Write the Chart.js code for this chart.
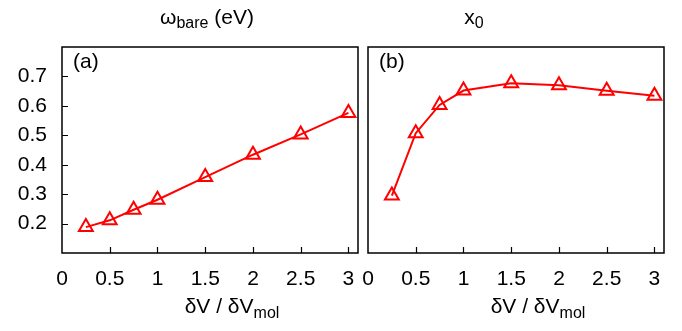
<!DOCTYPE html>
<html>
<head>
<meta charset="utf-8">
<script src="https://cdn.jsdelivr.net/npm/chart.js@4/dist/chart.umd.min.js"></script>
<style>
  html, body { margin: 0; padding: 0; background: #ffffff; }
  #wrap { position: relative; width: 682px; height: 331px; }
  canvas { position: absolute; left: 0; top: 0; }
</style>
</head>
<body>
<div id="wrap">
  <canvas id="c1" width="682" height="331"></canvas>
  <canvas id="c2" width="682" height="331"></canvas>
</div>
<script>
// ---- data ----
const ratio = [0.25, 0.5, 0.75, 1, 1.5, 2, 2.5, 3];          // δV / δV_mol
const omegaBare = [0.188, 0.211, 0.247, 0.281, 0.358, 0.434, 0.503, 0.576]; // ω_bare (eV)
const x0Values = [0.295, 0.507, 0.603, 0.652, 0.677, 0.670, 0.651, 0.634];  // x_0
const xTicks = [0, 0.5, 1, 1.5, 2, 2.5, 3];
const xTickLabels = ['0', '0.5', '1', '1.5', '2', '2.5', '3'];
const yTicks = [0.2, 0.3, 0.4, 0.5, 0.6, 0.7];
const yTickLabels = ['0.2', '0.3', '0.4', '0.5', '0.6', '0.7'];
const xRange = [0, 3.1];
const yRange = [0.1, 0.8];

const FONT = '"Liberation Sans", Arial, Helvetica, sans-serif';
const RED = '#ff0000';

function drawSub(ctx, parts, cx, baseline) {
  // parts: [{t, size, dy}]
  let total = 0;
  parts.forEach(p => { ctx.font = p.size + 'px ' + FONT; p.w = ctx.measureText(p.t).width; total += p.w; });
  let x = cx - total / 2;
  ctx.fillStyle = '#000';
  ctx.textAlign = 'left';
  ctx.textBaseline = 'alphabetic';
  parts.forEach(p => { ctx.font = p.size + 'px ' + FONT; ctx.fillText(p.t, x, baseline + p.dy); x += p.w; });
}

function makePlugin(cfg) {
  return {
    id: 'deco' + cfg.id,
    beforeDatasetsDraw(chart) {
      const ctx = chart.ctx, a = chart.chartArea;
      const xs = chart.scales.x, ys = chart.scales.y;
      ctx.save();
      ctx.strokeStyle = '#000';
      ctx.lineWidth = 1.5;
      ctx.strokeRect(a.left, a.top, a.right - a.left, a.bottom - a.top);
      ctx.lineWidth = 1.2;
      ctx.beginPath();
      xTicks.forEach(v => {
        if (v <= xRange[0]) return;
        const px = Math.round(xs.getPixelForValue(v)) + 0.5;
        ctx.moveTo(px, a.bottom); ctx.lineTo(px, a.bottom - 6);
      });
      if (cfg.yTicksShown) {
        yTicks.forEach(v => {
          const py = Math.round(ys.getPixelForValue(v)) + 0.5;
          ctx.moveTo(a.left, py); ctx.lineTo(a.left + 6, py);
        });
      }
      ctx.stroke();
      // panel letter
      ctx.fillStyle = '#000';
      ctx.font = '21px ' + FONT;
      ctx.textAlign = 'left';
      ctx.textBaseline = 'alphabetic';
      ctx.fillText(cfg.letter, a.left + 11, a.top + 21);
      // title
      drawSub(ctx, cfg.title, cfg.titleX, 24);
      // x-axis title
      drawSub(ctx, [{t: 'δV / δV', size: 21, dy: 0}, {t: 'mol', size: 16, dy: 5}], cfg.xTitleX, 313);
      ctx.restore();
    }
  };
}

function makeChart(id, values, cfg) {
  return new Chart(document.getElementById(id), {
    type: 'line',
    data: {
      datasets: [{
        data: ratio.map((r, i) => ({x: r, y: values[i]})),
        borderColor: RED,
        borderWidth: 2,
        pointStyle: 'triangle',
        pointRadius: 8,
        pointBorderWidth: 2,
        pointBorderColor: RED,
        pointBackgroundColor: 'rgba(0,0,0,0)',
        fill: false,
        tension: 0
      }]
    },
    options: {
      responsive: false,
      animation: false,
      events: [],
      layout: { padding: cfg.padding },
      plugins: { legend: { display: false }, tooltip: { enabled: false }, title: { display: false } },
      scales: {
        x: {
          type: 'linear',
          min: xRange[0], max: xRange[1],
          grid: { display: false, drawTicks: false },
          border: { display: false },
          afterBuildTicks: s => { s.ticks = xTicks.map(v => ({value: v})); },
          afterFit: s => { s.height = 78; },
          ticks: {
            autoSkip: false, maxRotation: 0,
            padding: 14,
            color: '#000',
            font: { family: FONT, size: 21 },
            callback: (v, i) => xTickLabels[i]
          }
        },
        y: {
          type: 'linear',
          min: yRange[0], max: yRange[1],
          grid: { display: false, drawTicks: false },
          border: { display: false },
          afterBuildTicks: s => { s.ticks = yTicks.map(v => ({value: v})); },
          afterFit: s => { s.width = cfg.yWidth; },
          ticks: {
            display: cfg.yLabels,
            padding: 15,
            color: '#000',
            font: { family: FONT, size: 21 },
            callback: (v, i) => yTickLabels[i]
          }
        }
      }
    },
    plugins: [makePlugin(cfg)]
  });
}

makeChart('c1', omegaBare, {
  id: 1, letter: '(a)', yTicksShown: true, yLabels: true, yWidth: 62,
  padding: { left: 0, right: 324, top: 47, bottom: 0 },
  title: [{t: 'ω', size: 21, dy: 0}, {t: 'bare', size: 16, dy: 4}, {t: ' (eV)', size: 21, dy: 0}],
  titleX: 207, xTitleX: 232
});
makeChart('c2', x0Values, {
  id: 2, letter: '(b)', yTicksShown: false, yLabels: false, yWidth: 6,
  padding: { left: 362, right: 18, top: 47, bottom: 0 },
  title: [{t: 'x', size: 21, dy: 0}, {t: '0', size: 16, dy: 4}],
  titleX: 474, xTitleX: 538
});
</script>
</body>
</html>
